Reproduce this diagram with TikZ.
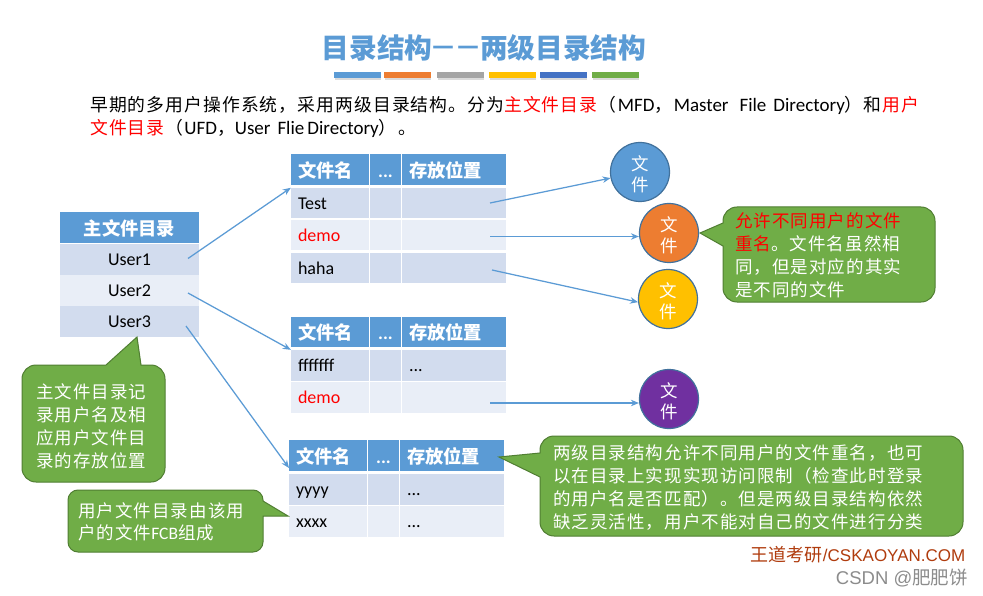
\documentclass[tikz,border=0pt]{standalone}
\usepackage{fontspec}
\usetikzlibrary{arrows.meta}
\setmainfont{Carlito}
\newfontfamily\cjsp[LetterSpace=6]{Noto Sans CJK SC}
\newfontfamily\cjpl{Noto Sans CJK SC}
\newfontfamily\arial{Liberation Sans}
\newcommand\cj[1]{{\cjsp #1}}
\newcommand\ci[1]{{\fontsize{17.8}{23}\selectfont\cjsp #1}}
\newcommand\cb[1]{{\cjpl\bfseries #1}}
\newcommand\fs[2]{\fontsize{#1}{#2}\selectfont}
\newcommand\ftext{\rule{0pt}{19pt}\cj{文}\\\cj{件}}
\definecolor{hdrblue}{HTML}{5B9BD5}
\definecolor{rowdark}{HTML}{D2DCEE}
\definecolor{rowlight}{HTML}{E9EEF7}
\definecolor{cgreen}{HTML}{70AD47}
\definecolor{cgreenb}{HTML}{507E32}
\definecolor{cborder}{HTML}{41719C}
\definecolor{wmark}{HTML}{B03C0E}
\definecolor{forange}{HTML}{ED7D31}
\definecolor{fyellow}{HTML}{FFC000}
\definecolor{fpurple}{HTML}{7030A0}
\tikzset{
  cell/.style={inner ysep=0pt,inner xsep=7pt,minimum height=30.5pt,text height=16pt,text depth=4pt,anchor=center,font=\fs{18}{22}},
  colA/.style={cell,text width=64pt,align=left},
  colB/.style={cell,text width=17pt,inner xsep=7pt,align=center},
  colC/.style={cell,text width=90pt,align=left},
  hdr/.style={fill=hdrblue,text=white,text height=20pt,font=\fs{18.3}{22}\bfseries},
  dark/.style={fill=rowdark},
  light/.style={fill=rowlight},
  link/.style={draw=hdrblue,line width=1.25pt,-{Stealth[length=8pt,width=6.5pt]}},
  callout/.style={fill=cgreen,draw=cgreenb,line width=1pt},
  ctext/.style={text=white,inner sep=0pt,align=left,anchor=west,font=\fs{17.5}{23}},
  filec/.style={circle,minimum size=59pt,inner sep=0pt,draw=cborder,line width=1.2pt,text=white,align=center,font=\fs{17.5}{21}},
  bar/.style={minimum width=46.5pt,minimum height=6pt,inner sep=0pt,anchor=north west},
  barsh/.style={fill=black!35,opacity=.4},
}
\newcommand\hrow[3]{% prefix, x, y
  \node[colA,hdr] (#1a) at ({#2+39},{#3+15.25}) {\cb{文件名}};
  \node[colB,hdr] (#1b) at ({#2+94.5},{#3+15.25}) {...};
  \node[colC,hdr] (#1c) at ({#2+163},{#3+15.25}) {\cb{存放位置}};
}
\newcommand\urow[6]{% prefix, x, y, style, textA, textC
  \node[colA,#4] (#1a) at ({#2+39},{#3+15.25}) {#5};
  \node[colB,#4] (#1b) at ({#2+94.5},{#3+15.25}) {};
  \node[colC,#4] (#1c) at ({#2+163},{#3+15.25}) {#6};
}
\begin{document}
\begin{tikzpicture}[x=1pt,y=-1pt]
\useasboundingbox[fill=white] (0,0) rectangle (983,596);

% title
\node[text=hdrblue,inner sep=0pt,font=\fs{27.7}{30}] (title) at (484,48) {\cb{目录结构}\raisebox{4.5pt}{\fontsize{24}{30}\selectfont\cb{—}\hspace{3pt}\cb{—}}\hspace{.5pt}\cb{两级目录结构}};
\foreach \n/\x/\c in {a/334/5B9BD5,b/384/ED7D31,c/437/A5A5A5,d/489/FFC000,e/540/4472C4,f/592/70AD47}{
  \definecolor{bc}{HTML}{\c}
  \fill[barsh] (\x+.5,73.8) rectangle (\x+47,79.8);
  \node[bar,fill=bc] (bar\n) at (\x,72) {};
}

% intro
\node[anchor=west,inner sep=0pt,font=\fs{19}{23}] (intro1) at (90,105.5) {\ci{早期的多用户操作系统，采用两级目录结构。分为}\textcolor{red}{\ci{主文件目录}}\hspace{1.5pt}\ci{（}\hspace{1pt}MFD\ci{，}\hspace{1.5pt}Master\hspace{11pt}File\hspace{7pt}Directory\ci{）和}\hspace{1pt}\textcolor{red}{\ci{用户}}};
\node[anchor=west,inner sep=0pt,font=\fs{19}{23}] (intro2) at (90,128.5) {\textcolor{red}{\ci{文件目录}}\hspace{1pt}\ci{（}\hspace{1pt}UFD\ci{，}User\hspace{7pt}Flie\hspace{3pt}Directory\ci{）}\hspace{2pt}\ci{。}};

% master table
\node[cell,hdr,minimum width=139pt,align=center] (mh) at (129.5,227.5) {\cb{主文件目录}};
\node[cell,dark,minimum width=139pt,align=center] (m1) at (129.5,259.5) {User1};
\node[cell,light,minimum width=139pt,align=center] (m2) at (129.5,290.5) {User2};
\node[cell,dark,minimum width=139pt,align=center] (m3) at (129.5,321.5) {User3};

% table 1
\hrow{ta}{291}{154.5}
\urow{tb}{291}{188}{dark}{Test}{}
\urow{tc}{291}{220}{light}{\textcolor{red}{demo}}{}
\urow{td}{291}{253}{dark}{haha}{}
% table 2
\hrow{ua}{291}{316.7}
\urow{ub}{291}{350}{dark}{fffffff}{...}
\urow{uc}{291}{382}{light}{\textcolor{red}{demo}}{}
% table 3
\hrow{va}{289}{440}
\urow{vb}{289}{474}{dark}{yyyy}{...}
\urow{vc}{289}{506}{light}{xxxx}{...}

% file circles
\node[filec,fill=hdrblue] (f1) at (640,172) {\ftext};
\node[filec,fill=forange] (f2) at (669,233) {\ftext};
\node[filec,fill=fyellow] (f3) at (668,299) {\ftext};
\node[filec,fill=fpurple] (f4) at (669,399) {\ftext};

% connector ends
\coordinate (s1) at (188,258.5);
\coordinate (s2) at (188,293);
\coordinate (s3) at (186,326);
\coordinate (e3) at (289,468);
\coordinate (p1) at (490,203);
\coordinate (p2) at (490,236.5);
\coordinate (p3) at (492,270);
\coordinate (p4) at (490,403);

\draw[link] (s1) -- (tba.north west);
\draw[link] (s2) -- (uba.north west);
\draw[link] (s3) -- (e3);
\draw[link] (p1) -- (f1);
\draw[link] (p2) -- (p2 -| f2.west);
\draw[link] (p3) -- (f3.186);
\draw[link] (p4) -- (p4 -| f4.west);

% callouts
\draw[callout] (137,337) -- (141,365) [rounded corners=14pt] -- (165,365) -- (165,482) -- (22,482) -- (22,365) [sharp corners] -- (106,365) -- cycle;
\node[ctext] (n1) at (36,426) {\cj{主文件目录记}\\\cj{录用户名及相}\\\cj{应用户文件目}\\\cj{录的存放位置}};

\draw[callout] (288,516) -- (263,516) [rounded corners=10pt] -- (263,552) -- (68,552) -- (68,490) -- (263,490) [sharp corners] -- (263,501) -- cycle;
\node[ctext,font=\fs{17.5}{22}] (n2) at (78,522) {\cj{用户文件目录由该用}\\\cj{户的文件}FCB\cj{组成}};

\draw[callout] (700,233) -- (723,223) [rounded corners=14pt] -- (723,207) -- (935,207) -- (935,302) -- (723,302) [sharp corners] -- (723,246) -- cycle;
\node[ctext] (n3) at (735,255.5) {\textcolor{red}{\cj{允许不同用户的文件}}\\\textcolor{red}{\cj{重名}}\cj{。文件名虽然相}\\\cj{同，但是对应的其实}\\\cj{是不同的文件}};

\draw[callout] (499,457) -- (540,453) [rounded corners=14pt] -- (540,436) -- (963,436) -- (963,536) -- (540,536) [sharp corners] -- (540,477) -- cycle;
\node[ctext] (n4) at (553,487.5) {\cj{两级目录结构允许不同用户的文件重名，也可}\\\cj{以在目录上实现实现访问限制（检查此时登录}\\\cj{的用户名是否匹配）。但是两级目录结构依然}\\\cj{缺乏灵活性，用户不能对自己的文件进行分类}};

% footer
\node[anchor=east,inner sep=0pt,text=wmark,font=\fs{17}{22}] (w1) at (965.5,555) {{\fontsize{18}{22}\selectfont\cjpl 王道考研}\arial /CSKAOYAN.COM};
\node[anchor=east,inner sep=0pt,text=black!45,font=\fs{18.5}{22}] (w2) at (968,578) {\arial CSDN @{\cjpl 肥肥饼}};
\end{tikzpicture}
\end{document}
